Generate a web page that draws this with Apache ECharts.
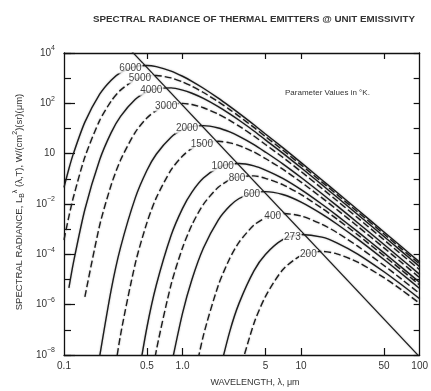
<!DOCTYPE html>
<html>
<head>
<meta charset="utf-8">
<script src="https://cdn.jsdelivr.net/npm/echarts@6.0.0/dist/echarts.min.js"></script>
<style>
  html, body { margin: 0; padding: 0; background: #fff; }
  #chart { width: 431px; height: 391px; }
</style>
</head>
<body>
<div id="chart"></div>
<script>
// wavelengths (um) shared by every curve
const wavelengths = [0.1, 0.11, 0.12, 0.15, 0.2, 0.25, 0.3, 0.4, 0.5, 0.6, 0.8, 1, 1.2, 1.5, 2, 2.5, 3, 4, 5, 7, 10, 15, 20, 30, 50, 70, 100];

// log10 of spectral radiance, W/(cm2)(sr)(um)
const rad6000 = [-1.338, -0.599, 0.001, 1.252, 2.364, 2.921, 3.219, 3.463, 3.502, 3.457, 3.281, 3.076, 2.876, 2.599, 2.206, 1.879, 1.603, 1.151, 0.782, 0.239, -0.357, -1.044, -1.534, -2.230, -3.110, -3.692, -4.309];
const rad5000 = [-3.422, -2.492, -1.734, -0.136, 1.322, 2.087, 2.524, 2.941, 3.083, 3.106, 3.010, 2.851, 2.680, 2.431, 2.064, 1.752, 1.484, 1.043, 0.680, 0.144, -0.447, -1.130, -1.619, -2.313, -3.192, -3.773, -4.389];
const rad4000 = [null, -5.332, -4.338, -2.219, -0.240, 0.838, 1.483, 2.160, 2.457, 2.582, 2.613, 2.526, 2.400, 2.195, 1.869, 1.579, 1.326, 0.902, 0.548, 0.023, -0.561, -1.238, -1.724, -2.415, -3.292, -3.872, -4.488];
const rad3000 = [null, null, null, -5.690, -2.843, -1.245, -0.253, 0.858, 1.415, 1.714, 1.958, 1.997, 1.952, 1.825, 1.571, 1.322, 1.094, 0.700, 0.364, -0.143, -0.713, -1.381, -1.862, -2.549, -3.422, -4.000, -4.615];
const rad2000 = [null, null, null, null, -8.051, -5.412, -3.724, -1.746, -0.668, -0.022, 0.655, 0.952, 1.077, 1.116, 1.021, 0.862, 0.690, 0.363, 0.064, -0.404, -0.947, -1.594, -2.066, -2.743, -3.609, -4.184, -4.797];
const rad1500 = [null, null, null, null, null, -9.580, -7.196, -4.349, -2.750, -1.758, -0.647, -0.090, 0.209, 0.419, 0.492, 0.429, 0.320, 0.065, -0.193, -0.617, -1.131, -1.757, -2.218, -2.886, -3.744, -4.317, -4.927];
const rad1000 = [null, null, null, null, null, null, null, -9.557, -6.917, -5.229, -3.251, -2.173, -1.527, -0.970, -0.553, -0.412, -0.389, -0.485, -0.654, -0.983, -1.431, -2.011, -2.452, -3.099, -3.942, -4.508, -5.114];
const rad800 = [null, null, null, null, null, null, null, null, -10.040, -7.833, -5.204, -3.735, -2.829, -2.012, -1.335, -1.038, -0.912, -0.882, -0.979, -1.231, -1.627, -2.170, -2.593, -3.224, -4.056, -4.617, -5.219];
const rad600 = [null, null, null, null, null, null, null, null, null, null, -8.458, -6.338, -4.999, -3.748, -2.636, -2.080, -1.781, -1.537, -1.508, -1.623, -1.924, -2.401, -2.794, -3.397, -4.208, -4.761, -5.357];
const rad400 = [null, null, null, null, null, null, null, null, null, null, null, null, -9.338, -7.219, -5.240, -4.163, -3.517, -2.840, -2.553, -2.379, -2.474, -2.805, -3.132, -3.675, -4.442, -4.977, -5.561];
const rad273 = [null, null, null, null, null, null, null, null, null, null, null, null, null, null, -8.873, -7.069, -5.939, -4.657, -4.007, -3.419, -3.211, -3.317, -3.541, -3.990, -4.691, -5.200, -5.765];
const rad200 = [null, null, null, null, null, null, null, null, null, null, null, null, null, null, null, null, -8.724, -6.746, -5.678, -4.613, -4.048, -3.884, -3.979, -4.310, -4.927, -5.404, -5.947];

const temperatures = [6000, 5000, 4000, 3000, 2000, 1500, 1000, 800, 600, 400, 273, 200];
const curves = [rad6000, rad5000, rad4000, rad3000, rad2000, rad1500, rad1000, rad800, rad600, rad400, rad273, rad200];

// peak of each curve, where the parameter label sits
const peakWavelength = [0.483, 0.580, 0.724, 0.966, 1.449, 1.932, 2.898, 3.623, 4.830, 7.245, 10.62, 14.49];
const peakRadiance = [3.503, 3.107, 2.623, 1.998, 1.118, 0.493, -0.388, -0.872, -1.497, -2.377, -3.206, -3.882];

// locus of the maxima (straight line on log-log)
const wienWavelength = [0.3, 100];
const wienRadiance = [4.537, -8.077];

// axis ticks
const xLabelValues = [0.1, 0.5, 1, 5, 10, 50, 100];
const xLabelText = ['0.1', '0.5', '1.0', '5', '10', '50', '100'];
const xTickValues = [0.5, 1, 5, 10, 50];
const yLabelExp = [4, 2, 0, -2, -4, -6, -8];
const yLabelSup = ['4', '2', '', '\u22122', '\u22124', '\u22126', '\u22128'];
const yMinorExp = [4, 3, 2, 1, 0, -1, -2, -3, -4, -5, -6, -7, -8];

const FONT = '"Liberation Sans", Arial, sans-serif';
const INK = '#1c1c1c';

const lg = v => Math.log10(v);

const series = curves.map((vals, i) => ({
  type: 'line',
  name: String(temperatures[i]),
  data: wavelengths.map((w, j) => [lg(w), vals[j]]).filter(p => p[1] !== null),
  showSymbol: false,
  smooth: 0.25,
  silent: true,
  clip: true,
  z: 2,
  lineStyle: {
    color: INK,
    width: 1.4,
    type: i % 2 === 1 ? [7, 3] : 'solid',
    shadowColor: 'rgba(0,0,0,0.3)',
    shadowBlur: 2
  }
}));

series.push({
  type: 'line',
  data: wienWavelength.map((w, j) => [lg(w), wienRadiance[j]]),
  showSymbol: false,
  silent: true,
  clip: true,
  z: 2,
  lineStyle: { color: INK, width: 1.2, shadowColor: 'rgba(0,0,0,0.3)', shadowBlur: 2 }
});

series.push({
  type: 'scatter',
  data: temperatures.map((t, i) => ({ name: String(t), value: [lg(peakWavelength[i]), peakRadiance[i]] })),
  symbolSize: 1,
  itemStyle: { color: 'rgba(0,0,0,0)' },
  silent: true,
  z: 5,
  label: {
    show: true,
    formatter: p => p.name,
    position: 'left',
    distance: 2,
    offset: [0, 3],
    fontSize: 10,
    fontFamily: FONT,
    color: '#111',
    backgroundColor: '#fff',
    padding: [0, 1, 0, 1]
  }
});

function xLabel(v) {
  for (let i = 0; i < xLabelValues.length; i++) {
    if (Math.abs(lg(xLabelValues[i]) - v) < 1e-6) return xLabelText[i];
  }
  return '';
}
function yLabel(v) {
  const i = yLabelExp.indexOf(Math.round(v));
  if (i < 0) return '';
  return yLabelSup[i] ? '{b|10}{s|' + yLabelSup[i] + '}' : '{b|10}';
}

const axisLineStyle = { color: '#111', width: 1.3 };
const tickStyle = { color: '#111', width: 1.2 };

const option = {
  animation: false,
  backgroundColor: '#fff',
  grid: { left: 64, top: 53, width: 363, height: 302, containLabel: false },
  xAxis: [
    {
      type: 'value', position: 'bottom', min: -1, max: 2,
      axisLine: { show: true, onZero: false, lineStyle: axisLineStyle },
      axisTick: { show: true, inside: true, length: 7, customValues: xTickValues.map(lg), lineStyle: tickStyle },
      axisLabel: {
        customValues: xLabelValues.map(lg), formatter: xLabel, margin: 6,
        fontSize: 10, fontFamily: FONT, color: '#333'
      },
      splitLine: { show: false }
    },
    {
      type: 'value', position: 'top', min: -1, max: 2,
      axisLine: { show: true, onZero: false, lineStyle: axisLineStyle },
      axisTick: { show: true, inside: true, length: 6, customValues: xTickValues.map(lg), lineStyle: tickStyle },
      axisLabel: { show: false },
      splitLine: { show: false }
    }
  ],
  yAxis: [
    {
      type: 'value', position: 'left', min: -8, max: 4,
      axisLine: { show: true, onZero: false, lineStyle: axisLineStyle },
      axisTick: { show: true, inside: true, length: 7, customValues: yMinorExp, lineStyle: tickStyle },
      axisLabel: {
        customValues: yLabelExp, formatter: yLabel, margin: 9, color: '#333',
        rich: {
          b: { fontSize: 10, fontFamily: FONT, color: '#333', lineHeight: 16 },
          s: { fontSize: 7, fontFamily: FONT, color: '#333', lineHeight: 6, verticalAlign: 'top' }
        }
      },
      splitLine: { show: false }
    },
    {
      type: 'value', position: 'left', min: -8, max: 4,
      axisLine: { show: false, onZero: false },
      axisTick: { show: true, inside: true, length: 11, customValues: yLabelExp, lineStyle: tickStyle },
      axisLabel: { show: false },
      splitLine: { show: false }
    },
    {
      type: 'value', position: 'right', min: -8, max: 4,
      axisLine: { show: true, onZero: false, lineStyle: axisLineStyle },
      axisTick: { show: true, inside: true, length: 6, customValues: yMinorExp, lineStyle: tickStyle },
      axisLabel: { show: false },
      splitLine: { show: false }
    }
  ],
  graphic: [
    {
      type: 'text', x: 254, y: 19, silent: true,
      style: {
        text: 'SPECTRAL RADIANCE OF THERMAL EMITTERS @ UNIT EMISSIVITY',
        font: 'bold 9.8px ' + FONT, fill: '#333', align: 'center', verticalAlign: 'middle'
      }
    },
    {
      type: 'text', x: 285, y: 93, silent: true,
      style: { text: 'Parameter Values in \u00b0K.', font: '8px ' + FONT, fill: '#333', align: 'left', verticalAlign: 'middle' }
    },
    {
      type: 'text', x: 255, y: 383, silent: true,
      style: { text: 'WAVELENGTH, \u03bb, \u03bcm', font: '9px ' + FONT, fill: '#333', align: 'center', verticalAlign: 'middle' }
    },
    {
      type: 'text', x: 19, y: 202, rotation: Math.PI / 2, silent: true,
      style: {
        text: '{a|SPECTRAL RADIANCE, L}{d|B}{u|\u03bb}{a| (\u03bb,T), W/(cm}{u|2}{a|)(sr)(\u03bcm)}',
        align: 'center', verticalAlign: 'middle',
        rich: {
          a: { fontSize: 9.5, fontFamily: FONT, fill: '#333', lineHeight: 14 },
          d: { fontSize: 7, fontFamily: FONT, fill: '#333', lineHeight: 8, verticalAlign: 'bottom' },
          u: { fontSize: 7, fontFamily: FONT, fill: '#333', lineHeight: 6, verticalAlign: 'top' }
        }
      }
    }
  ],
  series: series
};

const chart = echarts.init(document.getElementById('chart'), null, { renderer: 'canvas' });
chart.setOption(option);
</script>
</body>
</html>
